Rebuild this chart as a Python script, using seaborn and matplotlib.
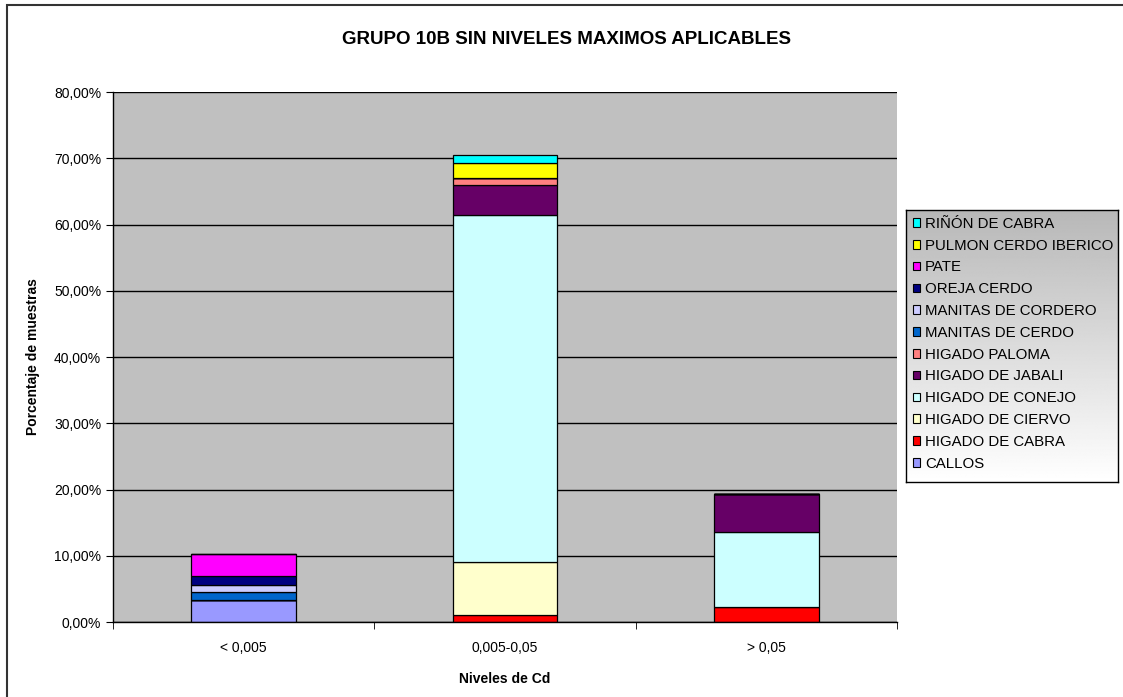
import matplotlib
matplotlib.use("Agg")
import matplotlib.pyplot as plt
import matplotlib.ticker as mticker
from matplotlib.patches import Patch, Rectangle
import numpy as np
import pandas as pd
import seaborn as sns

# Cd levels (x categories)
categories = ["< 0,005", "0,005-0,05", "> 0,05"]

# percentage of samples per product, one value per category
callos = [3.28, 0, 0]
higado_cabra = [0, 1.06, 2.31]
higado_ciervo = [0, 8.05, 0]
higado_conejo = [0, 52.30, 11.32]
higado_jabali = [0, 4.57, 5.69]
higado_paloma = [0, 1.06, 0]
manitas_cerdo = [1.27, 0, 0]
manitas_cordero = [1.00, 0, 0]
oreja_cerdo = [1.36, 0, 0]
pate = [3.28, 0, 0]
pulmon_cerdo = [0, 2.26, 0]
rinon_cabra = [0, 1.25, 0]

# bottom -> top stacking order
names = ["CALLOS", "HIGADO DE CABRA", "HIGADO DE CIERVO", "HIGADO DE CONEJO",
         "HIGADO DE JABALI", "HIGADO PALOMA", "MANITAS DE CERDO",
         "MANITAS DE CORDERO", "OREJA CERDO", "PATE", "PULMON CERDO IBERICO",
         "RIÑÓN DE CABRA"]
values = [callos, higado_cabra, higado_ciervo, higado_conejo, higado_jabali,
          higado_paloma, manitas_cerdo, manitas_cordero, oreja_cerdo, pate,
          pulmon_cerdo, rinon_cabra]
colors = ["#9999FF", "#FF0000", "#FFFFCC", "#CCFFFF", "#660066", "#FF8080",
          "#0066CC", "#CCCCFF", "#000080", "#FF00FF", "#FFFF00", "#00FFFF"]

plt.rcParams["font.family"] = ["Liberation Sans", "DejaVu Sans"]

rows = []
for name, vals in zip(names, values):
    for cat, v in zip(categories, vals):
        rows.append({"nivel": cat, "muestra": name, "pct": v})
df = pd.DataFrame(rows)
df["nivel"] = pd.Categorical(df["nivel"], categories=categories, ordered=True)

W, H = 1123, 697
fig = plt.figure(figsize=(W / 100, H / 100), dpi=100)
fig.patch.set_facecolor("white")

ax = fig.add_axes([113 / W, 1 - 622 / H, 784 / W, 530 / H])
ax.set_facecolor("#C0C0C0")
ax.set_axisbelow(True)
ax.yaxis.grid(True, color="black", linewidth=1)

palette = dict(zip(names, colors))
sns.histplot(data=df, x="nivel", weights="pct", hue="muestra",
             hue_order=names[::-1], multiple="stack", discrete=True,
             shrink=0.4, palette=palette, edgecolor="black", linewidth=0.9,
             alpha=1, legend=False, ax=ax)

ax.set_xlim(-0.5, 2.5)
ax.set_ylim(0, 80)
ax.set_yticks(np.arange(0, 81, 10))
ax.yaxis.set_major_formatter(mticker.FuncFormatter(lambda v, p: f"{v:.2f}%".replace(".", ",")))
ax.set_xticks([0, 1, 2])
ax.set_xticklabels(categories)
ax.set_xticks([-0.5, 0.5, 1.5, 2.5], minor=True)
ax.tick_params(axis="x", which="major", length=0, pad=14, labelsize=10)
ax.tick_params(axis="x", which="minor", length=5, direction="out")
ax.tick_params(axis="y", length=5, direction="out", labelsize=10)
ax.set_xlabel("Niveles de Cd", fontsize=10, fontweight="bold", labelpad=12)
ax.set_ylabel("")
for s in ["top", "right"]:
    ax.spines[s].set_visible(False)
for s in ["left", "bottom"]:
    ax.spines[s].set_color("black")
    ax.spines[s].set_linewidth(1)

fig.text(33 / W, 1 - 357 / H, "Porcentaje de muestras", rotation=90,
         ha="center", va="center", fontsize=10, fontweight="bold")
fig.text(566 / W, 1 - 40 / H, "GRUPO 10B SIN NIVELES MAXIMOS APLICABLES",
         ha="center", va="center", fontsize=13.5, fontweight="bold")

# legend box with gray-to-white gradient
lax = fig.add_axes([906 / W, 1 - 482 / H, 212 / W, 272 / H])
grad = np.linspace(0.72, 1.0, 256).reshape(-1, 1)
lax.imshow(grad, cmap="gray", vmin=0, vmax=1, aspect="auto",
           extent=[0, 1, 1, 0])
lax.set_xticks([])
lax.set_yticks([])
for s in lax.spines.values():
    s.set_color("black")
    s.set_linewidth(1)

handles = [Patch(facecolor=c, edgecolor="black", linewidth=0.8, label=n)
           for n, c in zip(names, colors)][::-1]
lax.legend(handles=handles, loc="upper left", bbox_to_anchor=(0.0, 1.0),
           frameon=False, fontsize=10.8, handlelength=0.5, handleheight=0.5,
           handletextpad=0.3, labelspacing=0.52, borderaxespad=0.15,
           borderpad=0.3)

# outer chart border
fig.patches.append(Rectangle((7 / W, -0.05), 1.2, 1.05 - 5 / H, fill=False,
                             edgecolor="#333333", linewidth=1.5,
                             transform=fig.transFigure, figure=fig))

fig.savefig("out.png", dpi=100)
